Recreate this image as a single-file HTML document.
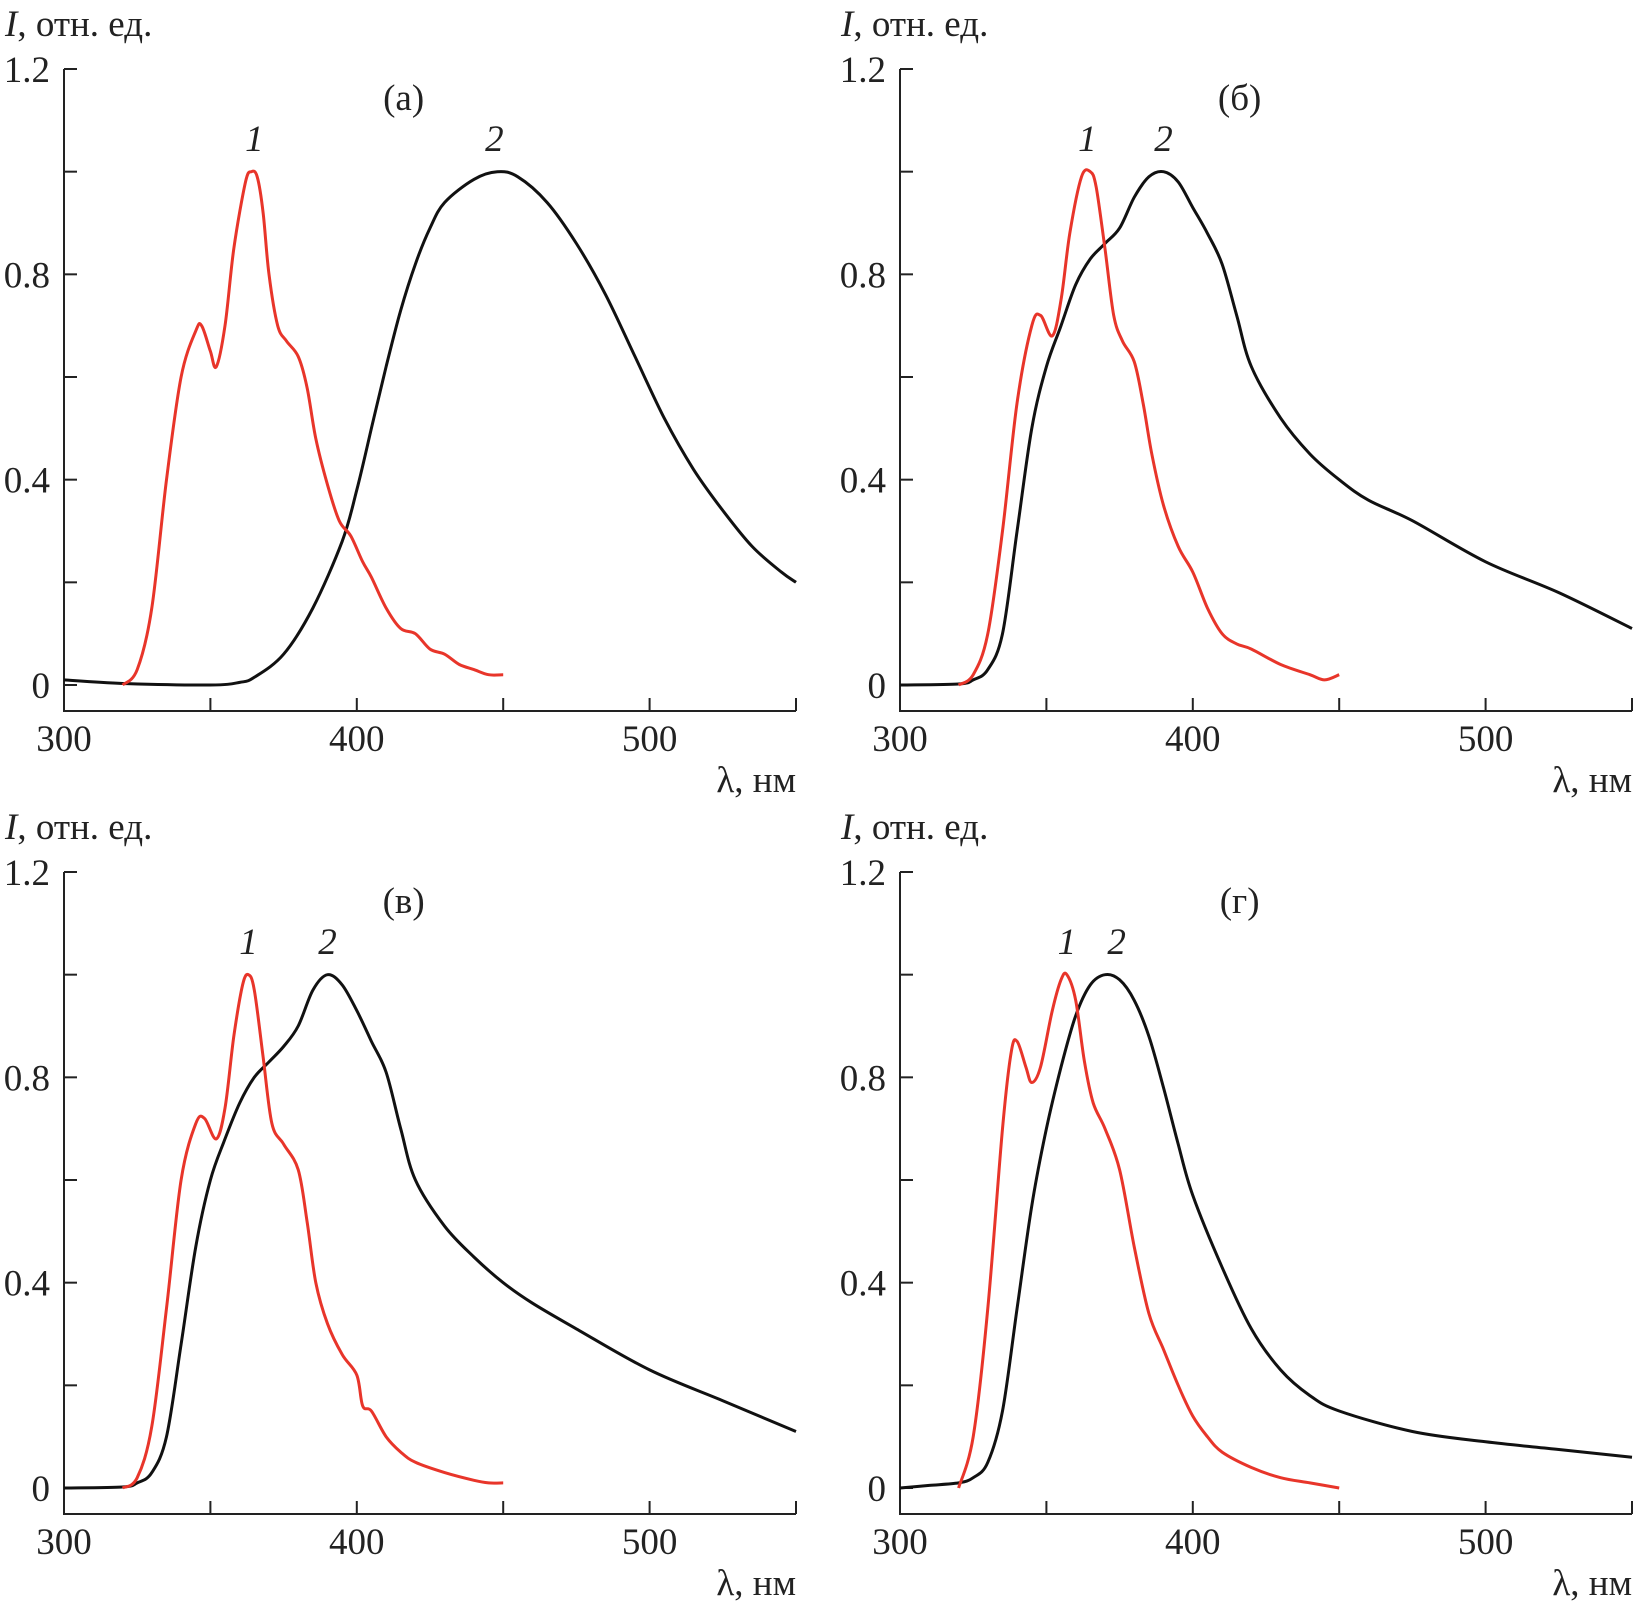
<!DOCTYPE html>
<html><head><meta charset="utf-8">
<style>
html,body{margin:0;padding:0;background:#fff;}
svg{display:block;font-family:"Liberation Serif","DejaVu Serif",serif;}
</style></head>
<body>
<svg id="chart" width="1633" height="1611" viewBox="0 0 1633 1611" xmlns="http://www.w3.org/2000/svg"></svg>
<script>
const xTicks=[300,350,400,450,500,550];
const xTickLabels=[300,400,500];
const yTicks=[0,0.2,0.4,0.6,0.8,1.0,1.2];
const yTickLabels=["0","0.4","0.8","1.2"];
const yTickValues=[0,0.4,0.8,1.2];
const panelNames=["(а)","(б)","(в)","(г)"];

const aRedX=[320,325,330,335,340,345,347,350,352,355,358,362,364,366,368,370,373,376,380,383,386,390,394,398,402,405,410,415,420,425,430,435,440,445,450];
const aRedY=[0,0.03,0.15,0.4,0.6,0.69,0.7,0.65,0.62,0.7,0.85,0.98,1.0,0.99,0.92,0.8,0.7,0.67,0.64,0.58,0.48,0.39,0.32,0.29,0.24,0.21,0.15,0.11,0.1,0.07,0.06,0.04,0.03,0.02,0.02];
const aBlkX=[300,320,350,360,365,375,385,395,400,405,410,415,420,425,430,440,448,455,465,475,485,495,505,515,525,535,545,550];
const aBlkY=[0.01,0.003,0,0.005,0.015,0.06,0.15,0.28,0.38,0.5,0.62,0.73,0.82,0.89,0.94,0.985,1.0,0.99,0.94,0.86,0.76,0.64,0.52,0.42,0.34,0.27,0.22,0.2];

const bRedX=[320,325,330,335,340,345,348,352,355,358,362,365,367,370,373,376,380,383,386,390,395,400,405,410,415,420,430,440,445,450];
const bRedY=[0,0.02,0.1,0.3,0.55,0.7,0.72,0.68,0.75,0.88,0.99,1.0,0.97,0.85,0.72,0.67,0.63,0.55,0.45,0.35,0.27,0.22,0.15,0.1,0.08,0.07,0.04,0.02,0.01,0.02];
const bBlkX=[300,320,325,330,335,340,345,350,355,360,365,370,375,380,385,390,395,400,405,410,415,420,430,440,450,460,475,500,525,550];
const bBlkY=[0,0.002,0.01,0.03,0.1,0.3,0.5,0.62,0.7,0.78,0.83,0.86,0.89,0.95,0.99,1.0,0.98,0.93,0.88,0.82,0.72,0.62,0.52,0.45,0.4,0.36,0.32,0.24,0.18,0.11];

const cRedX=[320,325,330,335,340,345,348,352,355,358,361,363,365,368,371,375,380,383,386,390,395,400,402,405,410,415,420,430,440,445,450];
const cRedY=[0,0.02,0.12,0.35,0.6,0.71,0.72,0.68,0.74,0.88,0.98,1.0,0.97,0.84,0.71,0.67,0.62,0.52,0.4,0.32,0.26,0.22,0.16,0.15,0.1,0.07,0.05,0.03,0.015,0.01,0.01];
const cBlkX=[300,320,325,330,335,340,345,350,355,360,365,370,375,380,385,390,395,400,405,410,415,420,430,440,450,460,475,500,525,550];
const cBlkY=[0,0.002,0.01,0.03,0.1,0.28,0.47,0.6,0.68,0.75,0.8,0.83,0.86,0.9,0.97,1.0,0.98,0.93,0.87,0.81,0.7,0.6,0.51,0.45,0.4,0.36,0.31,0.23,0.17,0.11];

const dRedX=[320,325,330,335,338,340,343,345,348,352,355,357,360,363,366,370,375,380,385,390,395,400,405,410,420,430,440,450];
const dRedY=[0,0.1,0.35,0.7,0.85,0.87,0.82,0.79,0.82,0.93,0.99,1.0,0.95,0.83,0.75,0.7,0.62,0.47,0.34,0.27,0.2,0.14,0.1,0.07,0.04,0.02,0.01,0];
const dBlkX=[300,310,320,325,330,335,340,345,350,355,360,365,370,375,380,385,390,395,400,410,420,430,440,450,475,500,525,550];
const dBlkY=[0,0.005,0.01,0.02,0.05,0.15,0.35,0.55,0.7,0.82,0.92,0.98,1.0,0.99,0.95,0.88,0.78,0.67,0.57,0.43,0.31,0.23,0.18,0.15,0.11,0.09,0.075,0.06];

const label1X=[365,364,363,357];
const label2X=[447,390,390,374];

const panels=[
 {ox:0,oy:0,rx:aRedX,ry:aRedY,bx:aBlkX,by:aBlkY},
 {ox:836,oy:0,rx:bRedX,ry:bRedY,bx:bBlkX,by:bBlkY},
 {ox:0,oy:803,rx:cRedX,ry:cRedY,bx:cBlkX,by:cBlkY},
 {ox:836,oy:803,rx:dRedX,ry:dRedY,bx:dBlkX,by:dBlkY}
];
const NS="http://www.w3.org/2000/svg";
const svg=document.getElementById('chart');
function mk(tag,attrs,parent){const e=document.createElementNS(NS,tag);for(const k in attrs)e.setAttribute(k,attrs[k]);(parent||svg).appendChild(e);return e;}
function smooth(pts){
 let d='M'+pts[0][0].toFixed(1)+' '+pts[0][1].toFixed(1);
 for(let k=0;k<pts.length-1;k++){
  const p0=pts[Math.max(0,k-1)],p1=pts[k],p2=pts[k+1],p3=pts[Math.min(pts.length-1,k+2)];
  const c1=[p1[0]+(p2[0]-p0[0])/6,p1[1]+(p2[1]-p0[1])/6];
  const c2=[p2[0]-(p3[0]-p1[0])/6,p2[1]-(p3[1]-p1[1])/6];
  d+=` C${c1[0].toFixed(1)} ${c1[1].toFixed(1)} ${c2[0].toFixed(1)} ${c2[1].toFixed(1)} ${p2[0].toFixed(1)} ${p2[1].toFixed(1)}`;
 }
 return d;
}
const FS=37;
panels.forEach((p,i)=>{
 const X0=64+p.ox, X1=796+p.ox, Y0=685+p.oy, YT=69+p.oy, YB=711+p.oy;
 const sx=v=>X0+(v-300)*(X1-X0)/250;
 const sy=v=>Y0-v*(Y0-YT)/1.2;
 const g=mk('g',{});
 
 
 const ax=mk('path',{d:`M${X0} ${YT} L${X0} ${YB} L${X1} ${YB}`,fill:'none',stroke:'#222','stroke-width':2},g);
 
 
 yTicks.forEach(t=>{const l=mk('line',{x1:X0,x2:X0+13,y1:sy(t),y2:sy(t),stroke:'#222','stroke-width':2},g);
  
  });
 xTicks.forEach(t=>{const l=mk('line',{x1:sx(t),x2:sx(t),y1:YB,y2:YB-13,stroke:'#222','stroke-width':2},g);
  
  });
 yTickValues.forEach((t,k)=>{const tx=mk('text',{x:X0-14,y:sy(t)+13,'text-anchor':'end','font-size':FS,fill:'#222'},g);tx.textContent=yTickLabels[k];
  
  });
 xTickLabels.forEach(t=>{const tx=mk('text',{x:sx(t),y:YB+40,'text-anchor':'middle','font-size':FS,fill:'#222'},g);tx.textContent=t;
  
  });
 const xt=mk('text',{x:X1,y:YB+81,'text-anchor':'end','font-size':FS,fill:'#222'},g);xt.textContent='λ, нм';
 
 
 const yt=mk('text',{x:5+p.ox,y:36+p.oy,'font-size':FS,fill:'#222'},g);
 yt.innerHTML='<tspan font-style="italic">I</tspan>, отн. ед.';
 
 
 const pt=mk('text',{x:sx(416),y:110+p.oy,'text-anchor':'middle','font-size':FS,fill:'#222'},g);pt.textContent=panelNames[i];
 
 
 const mkPath=(xs,ys)=>smooth(xs.map((x,k)=>[sx(x),sy(ys[k])]));
 const bl=mk('path',{d:mkPath(p.bx,p.by),fill:'none',stroke:'#111','stroke-width':3,'stroke-linejoin':'round'},g);
 
 
 const rl=mk('path',{d:mkPath(p.rx,p.ry),fill:'none',stroke:'#e8352a','stroke-width':3,'stroke-linejoin':'round'},g);
 
 
 const l1=mk('text',{x:sx(label1X[i]),y:sy(1.04),'text-anchor':'middle','font-size':FS,'font-style':'italic',fill:'#222'},g);l1.textContent='1';
 
 
 const l2=mk('text',{x:sx(label2X[i]),y:sy(1.04),'text-anchor':'middle','font-size':FS,'font-style':'italic',fill:'#222'},g);l2.textContent='2';
 
 
});
</script>
</body></html>
